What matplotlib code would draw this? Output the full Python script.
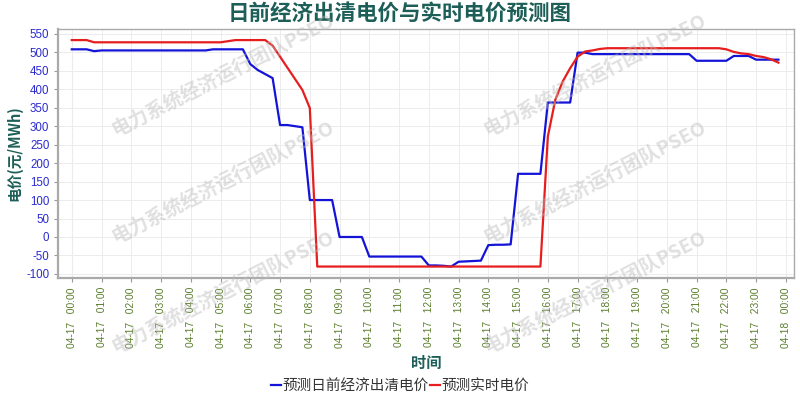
import numpy as np
import pandas as pd
import matplotlib
matplotlib.use("Agg")
import matplotlib.pyplot as plt
import matplotlib.dates as mdates

plt.rcParams['font.family'] = ['Noto Sans CJK SC', 'DejaVu Sans']
plt.rcParams['axes.unicode_minus'] = False

# 15-minute points, 04-17 00:00 .. 23:45
times = pd.date_range("2024-04-17 00:00", periods=96, freq="15min")

dayahead = ([508, 508, 508, 503] + [505] * 15 + [508] * 5
            + [468, 452, 441, 430, 303, 303, 300, 297]
            + [100] * 4 + [0] * 4 + [-53] * 8
            + [-77, -77, -78, -80, -67, -66, -65, -64, -22, -21, -21, -20]
            + [171] * 4 + [364] * 4 + [499, 499] + [495] * 14
            + [477] * 5 + [490] * 3 + [480] * 4)

realtime = ([533] * 3 + [527] * 18 + [530] + [533] * 5
            + [518, 488, 458, 428, 398, 349] + [-80] * 31
            + [272, 371, 421, 457, 488, 502, 505, 509] + [511] * 16
            + [508, 501, 497, 495, 490, 487, 481, 472])

title = "日前经济出清电价与实时电价预测图"
teal = "#1d5f58"

fig = plt.figure(figsize=(8, 4), dpi=100)
ax = fig.add_axes([0.073, 0.305, 0.919, 0.6225])

l1, = ax.plot(times, dayahead, color="#1414d8", lw=1.6, label="预测日前经济出清电价")
l2, = ax.plot(times, realtime, color="#e61e1e", lw=1.6, label="预测实时电价")

t0 = pd.Timestamp("2024-04-17 00:00")
ax.set_xlim(t0 - pd.Timedelta(hours=0.45), t0 + pd.Timedelta(hours=24.26))
ax.set_ylim(-111, 563)
ax.axvline(t0, color="#cccccc", ls=(0, (4, 3)), lw=0.8, zorder=0)

ax.xaxis.set_major_locator(mdates.HourLocator(interval=1))
ax.xaxis.set_major_formatter(mdates.DateFormatter("%m-%d   %H:%M"))
ax.set_yticks(np.arange(-100, 551, 50))

for lab in ax.get_xticklabels():
    lab.set_rotation(90)
ax.tick_params(axis="x", labelsize=7.4, labelcolor="#5a7d2c", color="#999999", length=3)
ax.tick_params(axis="y", labelsize=8.3, labelcolor="#2a2ad0", color="#999999", length=3)
for lab in ax.get_xticklabels() + ax.get_yticklabels():
    lab.set_family("Liberation Sans")

ax.grid(True, color="#ececec", lw=0.7)
ax.set_axisbelow(True)
for s in ax.spines.values():
    s.set_color("#aaaaaa")
    s.set_linewidth(1.0)
ax.spines["left"].set_linewidth(1.6)
ax.spines["bottom"].set_linewidth(1.6)

ax.set_ylabel("电价(元/MWh)", color=teal, fontsize=10.5, fontweight="bold", labelpad=3)
ax.set_xlabel("时间", color=teal, fontsize=11, fontweight="bold")
ax.xaxis.set_label_coords(0.5, -0.31)
fig.text(0.5, 0.967, title, ha="center", va="center", color=teal,
         fontsize=15.5, fontweight="bold")

fig.legend(handles=[l1, l2], loc="center", bbox_to_anchor=(0.5, 0.035), ncol=2,
           frameon=False, fontsize=10.5, handlelength=0.7, handletextpad=0.1,
           columnspacing=0.1, labelcolor="#333333")

# watermark
for cx in (223, 595):
    for cy in (75, 182, 292):
        fig.text(cx / 800, 1 - cy / 400, "电力系统经济运行团队PSEO", ha="center", va="center",
                 rotation=27, fontsize=14, fontweight="bold", color="#bbbbbb", alpha=0.45,
                 zorder=10)

fig.savefig("out.png", dpi=100)
